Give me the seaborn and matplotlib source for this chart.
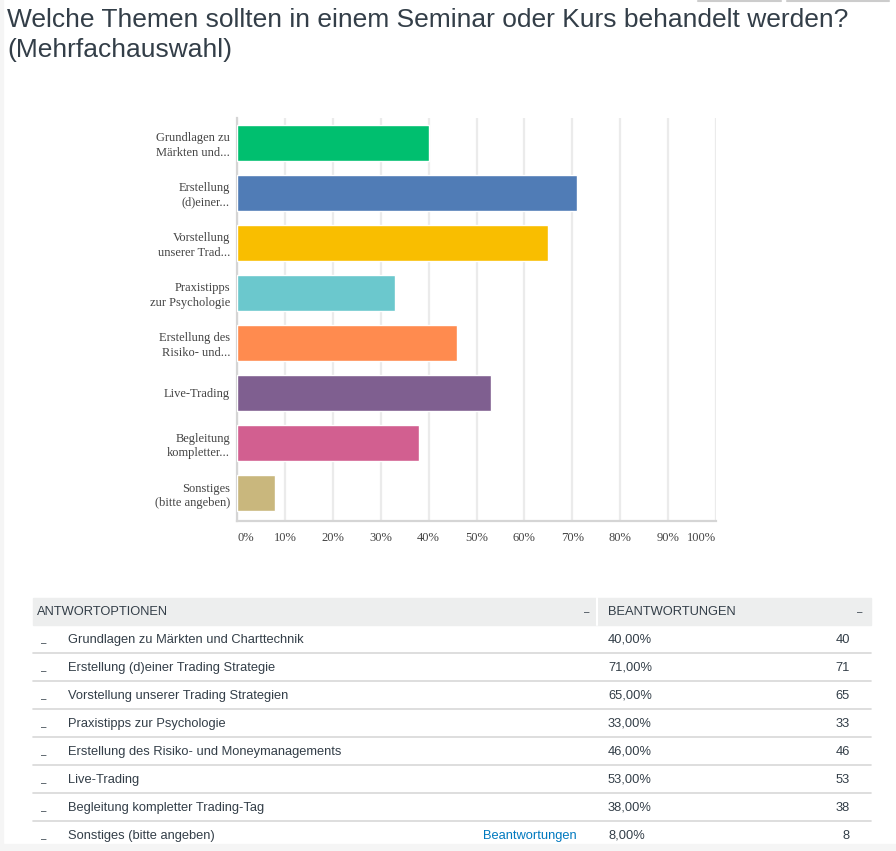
import numpy as np
import pandas as pd
import matplotlib
matplotlib.use("Agg")
import matplotlib.pyplot as plt
import seaborn as sns

# data
short_labels = ["Grundlagen zu\nMärkten und...", "Erstellung\n(d)einer...", "Vorstellung\nunserer Trad...",
                "Praxistipps\nzur Psychologie", "Erstellung des\nRisiko- und...", "Live-Trading",
                "Begleitung\nkompletter...", "Sonstiges\n(bitte angeben)"]
full_labels = ["Grundlagen zu Märkten und Charttechnik", "Erstellung (d)einer Trading Strategie",
               "Vorstellung unserer Trading Strategien", "Praxistipps zur Psychologie",
               "Erstellung des Risiko- und Moneymanagements", "Live-Trading",
               "Begleitung kompletter Trading-Tag", "Sonstiges (bitte angeben)"]
percent = [40, 71, 65, 33, 46, 53, 38, 8]
counts = [40, 71, 65, 33, 46, 53, 38, 8]
bar_colors = ["#00bf6f", "#507cb6", "#f9be00", "#6bc8cd", "#ff8b4f", "#7f5f90", "#d25f90", "#c9b77d"]
xticks = [0, 10, 20, 30, 40, 50, 60, 70, 80, 90, 100]

sns.set_theme(style="white")
plt.rcParams['font.family'] = ['Liberation Sans', 'DejaVu Sans']

W, H = 896, 851
fig = plt.figure(figsize=(W / 100, H / 100), dpi=100)
fig.patch.set_facecolor("white")

def fx(px):
    return px / W

def fy(py):
    return 1 - py / H

# frame bits of the page
fig.patches.append(plt.Rectangle((0, 0), 1, fy(844), transform=fig.transFigure, color="#f5f5f5", zorder=0))
fig.patches.append(plt.Rectangle((0, 0), fx(3), 1, transform=fig.transFigure, color="#f5f5f5", zorder=0))
for x0, x1 in [(698, 781), (787, 889)]:
    fig.add_artist(plt.Line2D([fx(x0), fx(x1)], [fy(0.8), fy(0.8)], color="#cccccc", lw=1.5))

title_col = "#333e48"
fig.text(fx(7), fy(20), "Welche Themen sollten in einem Seminar oder Kurs behandelt werden?",
         fontsize=19, color=title_col, va="center", ha="left")
fig.text(fx(7), fy(50), "(Mehrfachauswahl)", fontsize=19, color=title_col, va="center", ha="left")

# bar chart
ax = fig.add_axes([fx(237), fy(521), fx(716) - fx(237), fy(118) - fy(521)])
df = pd.DataFrame({"label": short_labels, "pct": percent})
sns.barplot(data=df, y="label", x="pct", hue="label", palette=bar_colors, legend=False,
            orient="h", width=0.72, saturation=1, ax=ax, zorder=3)
ax.set_xlim(0, 100)
ax.set_ylim(7.56, -0.5)
ax.set_xticks(xticks)
ax.set_xticklabels([f"{t}%" for t in xticks])
ax.grid(axis="x", color="#ebebeb", lw=1.6, zorder=0)
ax.set_xlabel("")
ax.set_ylabel("")
for s in ["top", "right"]:
    ax.spines[s].set_visible(False)
for s in ["left", "bottom"]:
    ax.spines[s].set_color("#d5d5d5")
    ax.spines[s].set_linewidth(1.6)
ax.tick_params(axis="both", length=0, colors="#444444", labelsize=9)
ax.tick_params(axis="x", pad=8)
ax.tick_params(axis="y", pad=5)
for lab in ax.get_xticklabels() + ax.get_yticklabels():
    lab.set_family(["Liberation Serif", "DejaVu Serif"])
ax.get_xticklabels()[0].set_ha("left")
ax.get_xticklabels()[-1].set_ha("right")
for lab in ax.get_yticklabels():
    lab.set_linespacing(1.25)

# response table
tcol = "#333e48"
fs = 9.3
fig.patches.append(plt.Rectangle((fx(33), fy(625)), fx(871) - fx(33), fy(598) - fy(625),
                                 transform=fig.transFigure, color="#edeeee", zorder=1))
fig.add_artist(plt.Line2D([fx(597), fx(597)], [fy(598), fy(625)], color="white", lw=1.5))
fig.text(fx(37), fy(612), "ANTWORTOPTIONEN", fontsize=fs, color=tcol, va="center")
fig.text(fx(608), fy(612), "BEANTWORTUNGEN", fontsize=fs, color=tcol, va="center")
fig.text(fx(587), fy(612), "–", fontsize=7, color=tcol, va="center", ha="center")
fig.text(fx(860), fy(612), "–", fontsize=7, color=tcol, va="center", ha="center")

for i, (name, p, c) in enumerate(zip(full_labels, percent, counts)):
    yc = 640 + 28 * i
    fig.text(fx(44), fy(yc + 3), "–", fontsize=7, color=tcol, va="center", ha="center")
    fig.text(fx(68), fy(yc), name, fontsize=fs, color=tcol, va="center")
    fig.text(fx(608), fy(yc), f"{p:.2f}%".replace(".", ","), fontsize=fs, color=tcol, va="center")
    fig.text(fx(850), fy(yc), str(c), fontsize=fs, color=tcol, va="center", ha="right")
    if i < len(full_labels) - 1:
        fig.add_artist(plt.Line2D([fx(33), fx(871)], [fy(yc + 13), fy(yc + 13)], color="#d8d8d8", lw=1.2))
    else:
        fig.text(fx(577), fy(yc), "Beantwortungen", fontsize=fs, color="#0079bf", va="center", ha="right")

fig.savefig("out.png", dpi=100)
